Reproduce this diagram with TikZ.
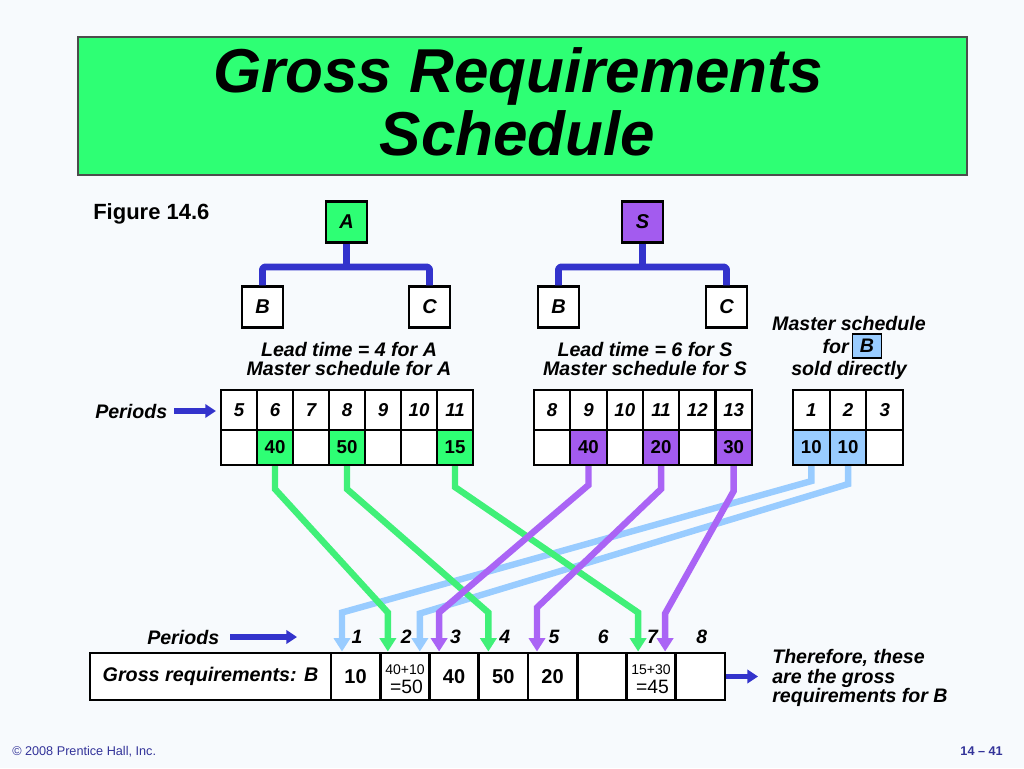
\documentclass[tikz,border=0pt]{standalone}
\usepackage{fontspec}
\setmainfont{Liberation Sans}
\usetikzlibrary{arrows.meta,backgrounds}
\definecolor{bgc}{RGB}{247,250,253}
\definecolor{grn}{RGB}{46,255,116}
\definecolor{pur}{RGB}{163,91,239}
\definecolor{lblue}{RGB}{153,204,255}
\definecolor{treeblue}{RGB}{51,51,204}
\definecolor{lgrn}{RGB}{64,240,120}
\definecolor{lpur}{RGB}{170,100,245}
\definecolor{lblu}{RGB}{153,204,255}
\definecolor{footblue}{RGB}{51,51,153}
\begin{document}
\begin{tikzpicture}[x=0.75pt,y=-0.75pt,
  box/.style={draw=black,line width=1.6pt,minimum width=30.75pt,minimum height=30.75pt,inner sep=0pt,font=\fontsize{15}{18}\selectfont\bfseries\itshape},
  lbl/.style={font=\fontsize{14.7}{18}\selectfont\bfseries\itshape,inner sep=0pt},
  ttl/.style={font=\fontsize{46.5}{50}\selectfont\bfseries\itshape,inner sep=0pt,anchor=base},
  hcell/.style={draw=black,fill=white,line width=1.6pt,minimum height=30pt,inner sep=0pt,font=\fontsize{14}{16}\selectfont\bfseries\itshape},
  vcell/.style={draw=black,line width=1.6pt,minimum height=26.25pt,inner sep=0pt,font=\fontsize{14}{16}\selectfont\bfseries},
  gcell/.style={draw=black,fill=white,line width=2.2pt,minimum width=36.94pt,minimum height=35.25pt,inner sep=0pt,font=\fontsize{15}{18}\selectfont\bfseries},
  pnum/.style={font=\fontsize{14.5}{17}\selectfont\bfseries\itshape,inner sep=0pt,anchor=base},
  tree/.style={draw=treeblue,line width=5.2pt,line join=round,rounded corners=2pt},
  flow/.style={line width=4.8pt,line join=miter,-{Triangle[width=12pt,length=10pt]}},
  parr/.style={draw=treeblue,line width=3.8pt,-{Triangle[width=10pt,length=8pt]}}
]
\useasboundingbox (0,0) rectangle (1024,768);

% title
\node[draw=black!70,line width=0.8pt,fill=grn,minimum width=666.75pt,minimum height=103.5pt,inner sep=0pt] (tbox) at (522.5,106) {};
\node[ttl] (t1) at (518,92) {Gross Requirements};
\node[ttl] (t2) at (517.5,155) {Schedule};

\node[font=\fontsize{16.5}{19}\selectfont\bfseries,inner sep=0pt,anchor=base west] (fig) at (93,219) {Figure 14.6};

% trees
\node[box,fill=grn] (A) at (346.5,222) {A};
\node[box,fill=white] (B1) at (262.5,307) {B};
\node[box,fill=white] (C1) at (429.5,307) {C};
\node[box,fill=pur] (S) at (642.5,222) {S};
\node[box,fill=white] (B2) at (558.5,307) {B};
\node[box,fill=white] (C2) at (726.5,307) {C};
\coordinate (ja) at (346.5,267);
\coordinate (js) at (642.5,267);
\draw[tree] (B1.north) |- (ja) -| (C1.north);
\draw[tree] (A.south) -- (ja);
\draw[tree] (B2.north) |- (js) -| (C2.north);
\draw[tree] (S.south) -- (js);

% labels
\node[lbl,anchor=base] (la1) at (349,356) {Lead time = 4 for A};
\node[lbl,anchor=base] (la2) at (349,375) {Master schedule for A};
\node[lbl,anchor=base] (ls1) at (645,356) {Lead time = 6 for S};
\node[lbl,anchor=base] (ls2) at (645,375) {Master schedule for S};
\node[lbl,anchor=base] (lb1) at (849,330) {Master schedule};
\node[lbl,anchor=base east] (lbfor) at (849,353) {for};
\node[draw=black,line width=1.2pt,fill=lblue,minimum width=21.75pt,minimum height=18pt,inner sep=0pt,font=\fontsize{14.7}{18}\selectfont\bfseries\itshape] (Bsd) at (867,346) {B};
\node[lbl,anchor=base] (lb3) at (849,375) {sold directly};

% top tables
\foreach \n [count=\i from 0] in {5,...,11}
  \node[hcell,minimum width=27pt] (ha\i) at ({239+36*\i},410) {\n};
\foreach \v/\c [count=\i from 0] in {{}/white,40/grn,{}/white,50/grn,{}/white,{}/white,15/grn}
  \node[vcell,minimum width=27pt,fill=\c] (va\i) at ({239+36*\i},447.5) {\v};
\foreach \n [count=\i from 0] in {8,...,13}
  \node[hcell,minimum width=27.2pt] (hs\i) at ({552.15+36.3*\i},410) {\n};
\foreach \v/\c [count=\i from 0] in {{}/white,40/pur,{}/white,20/pur,{}/white,30/pur}
  \node[vcell,minimum width=27.2pt,fill=\c] (vs\i) at ({552.15+36.3*\i},447.5) {\v};
\foreach \n [count=\i from 0] in {1,2,3}
  \node[hcell,minimum width=27.5pt] (hb\i) at ({811.35+36.7*\i},410) {\n};
\foreach \v/\c [count=\i from 0] in {10/lblue,10/lblue,{}/white}
  \node[vcell,minimum width=27.5pt,fill=\c] (vb\i) at ({811.35+36.7*\i},447.5) {\v};

\node[lbl,anchor=base west] (per1) at (95,418) {Periods};
\draw[parr,shorten <=5pt,shorten >=3pt] (per1.east) -- (per1.east -| ha0.west);

% bottom table
\node[gcell,minimum width=180.75pt,font=\fontsize{14.8}{18}\selectfont\bfseries\itshape] (glabel) at (210.5,676.5) {Gross requirements: B};
\foreach \v [count=\i from 0] in {10,{},40,50,20,{},{},{}}
  \node[gcell] (g\i) at ({355.6+49.25*\i},676.5) {\v};
\node[font=\fontsize{10.5}{12}\selectfont,inner sep=0pt,anchor=base] (s1a) at (405,674) {40+10};
\node[font=\fontsize{14.5}{16}\selectfont,inner sep=0pt,anchor=base] (s1b) at (406.5,693) {=50};
\node[font=\fontsize{10.5}{12}\selectfont,inner sep=0pt,anchor=base] (s6a) at (651,674) {15+30};
\node[font=\fontsize{14.5}{16}\selectfont,inner sep=0pt,anchor=base] (s6b) at (652.5,693) {=45};
\foreach \n [count=\i from 0] in {1,...,8}
  \node[pnum] (pn\i) at ({357+49.25*\i},643) {\n};

\node[lbl,anchor=base west] (per2) at (147,644) {Periods};
\coordinate (pe2) at (297,637);
\draw[parr,shorten <=8pt] (per2.east) -- (per2.east -| pe2);

\node[lbl,anchor=base west] (th1) at (772,663) {Therefore, these};
\node[lbl,anchor=base west] (th2) at (772,683) {are the gross};
\node[lbl,anchor=base west] (th3) at (772,702) {requirements for B};
\draw[parr,shorten >=10.5pt] (g7.east) -- (g7.east -| th2.west);

% footer
\node[font=\fontsize{9.5}{11}\selectfont,text=footblue,inner sep=0pt,anchor=base west] (copy) at (12,755) {© 2008 Prentice Hall, Inc.};
\node[font=\fontsize{9.5}{11}\selectfont\bfseries,text=footblue,inner sep=0pt,anchor=base east] (pg) at (1003,755) {14 – 41};

% flows
\coordinate (tb1) at ([xshift=-10.2pt]g0.north);
\coordinate (tb2) at ([xshift=11.25pt]g1.north);
\coordinate (tg1) at ([xshift=-12.75pt]g1.north);
\coordinate (tg2) at ([xshift=-11.25pt]g3.north);
\coordinate (tg3) at ([xshift=-9.75pt]g6.north);
\coordinate (tp1) at ([xshift=-11.25pt]g2.north);
\coordinate (tp2) at ([xshift=-11.7pt]g4.north);
\coordinate (tp3) at ([xshift=10.5pt]g6.north);
\begin{scope}[on background layer]
\fill[bgc] (0,0) rectangle (1024,768);
\draw[flow,draw=lblu] (vb0.south) -- ++(0,15) -- ([yshift=29.25pt]tb1) -- (tb1);
\draw[flow,draw=lblu] (vb1.south) -- ++(0,18) -- ([yshift=28.5pt]tb2) -- (tb2);
\draw[flow,draw=lgrn] (va1.south) -- ++(0,23) -- ([yshift=29.25pt]tg1) -- (tg1);
\draw[flow,draw=lgrn] (va3.south) -- ++(0,23) -- ([yshift=29.25pt]tg2) -- (tg2);
\draw[flow,draw=lgrn] (va6.south) -- ++(0,21) -- ([yshift=29.25pt]tg3) -- (tg3);
\draw[flow,draw=lpur] (vs1.south) -- ++(0,19) -- ([yshift=29.25pt]tp1) -- (tp1);
\draw[flow,draw=lpur] (vs3.south) -- ++(0,23) -- ([yshift=33pt]tp2) -- (tp2);
\draw[flow,draw=lpur] (vs5.south) -- ++(0,25) -- ([yshift=28.5pt]tp3) -- (tp3);
\end{scope}
\end{tikzpicture}
\end{document}
